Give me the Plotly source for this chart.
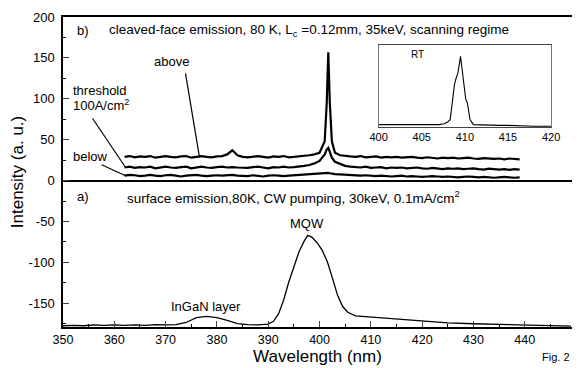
import plotly.graph_objects as go

# ---------------- data ----------------
# (b) cleaved-face emission, three excitation levels
wl_b = [362, 363, 364, 365, 366, 367, 368, 369, 370, 371, 372, 373, 374, 375, 376, 377, 378, 379, 380, 381,
        382, 383, 384,
        385, 386, 387, 388, 389, 390, 391, 392, 393, 394, 395, 396, 397, 398, 399,
        400, 401, 401.4, 401.7, 402, 402.4, 403,
        404, 405, 406, 407, 408, 409, 410, 411, 412, 413, 414, 415, 416, 417, 418, 419, 420, 421,
        422, 423, 424, 425, 426, 427, 428, 429, 430, 431, 432, 433, 434, 435, 436, 437, 438, 439]
above = [29, 30, 28.5, 29.5, 29, 30, 28, 29, 30, 29, 28.5, 29.5, 30, 28, 29, 30, 29, 28.5, 29.5, 30,
         32, 37, 31,
         29, 28.5, 29.5, 30, 29, 28, 29.5, 29, 30, 28.5, 29, 29.5, 30, 31, 32,
         34, 48, 95, 157, 95, 48, 34,
         31, 30, 29.5, 29, 30, 28.5, 29, 29.5, 28, 29, 28.5, 29, 28, 28.5, 29, 28, 27.5, 28.5,
         28, 27, 28, 27.5, 28, 27, 27.5, 28, 27, 26.5, 27.5, 27, 26.5, 27, 26, 27, 26.5, 26]
threshold = [16, 17, 15.5, 16.5, 16, 17, 15, 16, 17, 16, 15.5, 16.5, 17, 15, 16, 17, 16, 15.5, 16.5, 17,
             16, 16.5, 16,
             16, 15.5, 16.5, 17, 16, 15, 16.5, 16, 17, 16, 16.5, 17, 18, 19, 21,
             24, 32, 38, 40, 35, 28, 23,
             20, 18, 17, 16.5, 16, 17, 15.5, 16, 16.5, 15, 16, 15.5, 16, 15, 15.5, 16, 15, 14.5,
             15.5, 15, 14, 15, 14.5, 15, 14, 14.5, 15, 14, 13.5, 14.5, 14, 13.5, 14, 13, 14, 13.5]
below = [6, 7, 6.5, 5.5, 6, 7, 6, 5.5, 6.5, 7, 6, 5, 6, 6.5, 7, 6, 5.5, 6, 6.5, 6,
         6.5, 7, 6,
         6, 5.5, 6.5, 6, 5, 6, 6.5, 6, 5.5, 6, 6.5, 7, 7, 7.5, 8,
         8.5, 9, 9.5, 9.5, 9, 8.5, 8,
         7.5, 7, 7, 6.5, 6, 6.5, 6, 5.5, 6, 5.5, 5, 5.5, 6, 5, 5.5, 5, 4.5, 5,
         5.5, 5, 4.5, 5, 4.5, 4, 4.5, 5, 4.5, 4, 4.5, 4, 3.5, 4, 4.5, 4, 3.5, 4]

# (a) surface emission (plotted below zero, offset)
wl_a = [350, 352, 354, 356, 358, 360, 362, 364, 366, 368, 370, 372, 374, 376, 378, 380, 382, 384, 386, 388,
        390, 391, 392, 393, 394, 395, 396, 397, 397.7, 398.5, 399.5, 400.5, 401.5, 402.5, 403.5, 404.5,
        405.5, 407, 409, 411, 413, 416, 420, 425, 430, 435, 440, 445, 449]
surface = [-177.5, -177, -177.5, -176.5, -177, -176.5, -177, -176.5, -177, -176, -176.5, -176, -173.5,
           -167.5, -166, -167.5, -171, -175, -176, -176.5,
           -175.5, -172, -163, -146, -124, -104, -87, -74, -67, -69, -76, -85, -99, -119, -140, -154,
           -161, -165.5, -166.5, -167, -168.5, -170, -172, -174, -175, -176, -177, -177.5, -178]

# inset: room temperature spectrum
wl_rt = [400, 401, 402, 403, 404, 405, 406, 407, 407.6, 408, 408.3, 408.6, 408.8, 409.0, 409.2, 409.5,
         409.7, 409.9, 410.1, 410.3, 410.6, 411, 412, 413, 414, 415, 416, 417, 418, 419, 420]
rt = [0.03, 0.03, 0.03, 0.025, 0.03, 0.025, 0.03, 0.03, 0.04, 0.06, 0.09, 0.33, 0.52, 0.6, 0.66, 0.86,
      0.7, 0.56, 0.34, 0.29, 0.09, 0.03, 0.025, 0.02, 0.02, 0.02, 0.015, 0.015, 0.01, 0.01, 0.01]

y_ticks = [-150, -100, -50, 0, 50, 100, 150, 200]
y_ticktext = ["-150", "-100", "-50", "0", "50", "100", "150", "200"]
x_ticks = [350, 360, 370, 380, 390, 400, 410, 420, 430, 440]
inset_ticks = [400, 405, 410, 415, 420]

FONT = "Liberation Sans, Arial, sans-serif"

fig = go.Figure()
for ys in (above, threshold, below):
    fig.add_trace(go.Scatter(x=wl_b, y=ys, mode="lines",
                             line=dict(color="black", width=2.2), showlegend=False))
fig.add_trace(go.Scatter(x=wl_a, y=surface, mode="lines",
                         line=dict(color="black", width=1.3), showlegend=False))
fig.add_trace(go.Scatter(x=wl_rt, y=rt, mode="lines", xaxis="x2", yaxis="y2",
                         line=dict(color="black", width=1.1), showlegend=False))

# the page body has an 8px margin, so the figure is sized to end at the window edge
fig.update_layout(
    width=573, height=360,
    margin=dict(l=55, r=0, t=9, b=41),
    paper_bgcolor="white", plot_bgcolor="white",
    font=dict(family=FONT, color="black", size=13),
    xaxis=dict(range=[350, 449.2], tickvals=x_ticks, ticks="inside", ticklen=6, tickwidth=1,
               showline=True, linecolor="black", linewidth=1.5, mirror=True,
               showgrid=False, zeroline=False, tickfont=dict(size=12.5),
               minor=dict(dtick=5, tick0=350, ticks="inside", ticklen=3, tickcolor="black"),
               title=dict(text="Wavelength (nm)", font=dict(size=17), standoff=0)),
    yaxis=dict(range=[-179, 200], tickvals=y_ticks, ticktext=y_ticktext, ticks="inside",
               ticklen=6, tickwidth=1, showline=True, linecolor="black", linewidth=1.5,
               mirror=False, showgrid=False, zeroline=True, zerolinecolor="black",
               zerolinewidth=1.5, tickfont=dict(size=13), ticklabelstandoff=4,
               minor=dict(dtick=25, tick0=0, ticks="inside", ticklen=3, tickcolor="black"),
               title=dict(text="Intensity (a. u.)", font=dict(size=17), standoff=6)),
    xaxis2=dict(domain=[0.620, 0.959], anchor="y2", range=[400, 420], tickvals=inset_ticks,
                ticks="", showline=True, linecolor="#444", linewidth=1, mirror=True,
                showgrid=False, zeroline=False, tickfont=dict(size=11), ticklabelstandoff=0),
    yaxis2=dict(domain=[0.645, 0.910], anchor="x2", range=[0, 1], showticklabels=False,
                ticks="", showline=True, linecolor="#777", linewidth=1, mirror=True,
                showgrid=False, zeroline=False),
)

ann = []
def txt(x, y, s, size=13, xanchor="left", xref="x", yref="y"):
    ann.append(dict(x=x, y=y, xref=xref, yref=yref, text=s, showarrow=False,
                    font=dict(size=size, family=FONT), xanchor=xanchor, yanchor="middle"))

txt(352.4, 183, "b)")
txt(358.5, 183, "cleaved-face emission, 80 K, L<sub>c</sub> =0.12mm, 35keV, scanning regime", size=13.5)
txt(352.4, -20, "a)")
txt(362, -20, "surface emission,80K, CW pumping, 30keV, 0.1mA/cm<sup>2</sup>", size=13.5)
txt(397.5, -52, "MQW", xanchor="center")
txt(377.8, -154, "InGaN layer", xanchor="center")
txt(371.2, 146, "above", xanchor="center")
txt(351.6, 110, "threshold")
txt(351.6, 92, "100A/cm<sup>2</sup>")
txt(351.6, 30, "below")
txt(403.5, 0.88, "RT", size=10, xref="x2", yref="y2")

ann.append(dict(x=1.0, y=-0.122, xref="paper", yref="paper", text="Fig. 2", showarrow=False,
                font=dict(size=11, family=FONT), xanchor="right", yanchor="bottom"))

# leader lines from labels to curves (anchored at the curve, tail offset in pixels)
shapes = []
def leader(x, y, dx, dy):
    shapes.append(dict(type="line", xref="x", yref="y", xsizemode="pixel", ysizemode="pixel",
                       xanchor=x, yanchor=y, x0=0, y0=0, x1=dx, y1=dy,
                       line=dict(color="black", width=1.2)))

leader(376.6, 28.5, -14, 84)
leader(362.2, 16, -33, 49)
leader(362.2, 6, -24, 11)

fig.update_layout(annotations=ann, shapes=shapes)
fig.write_html("out.html")
